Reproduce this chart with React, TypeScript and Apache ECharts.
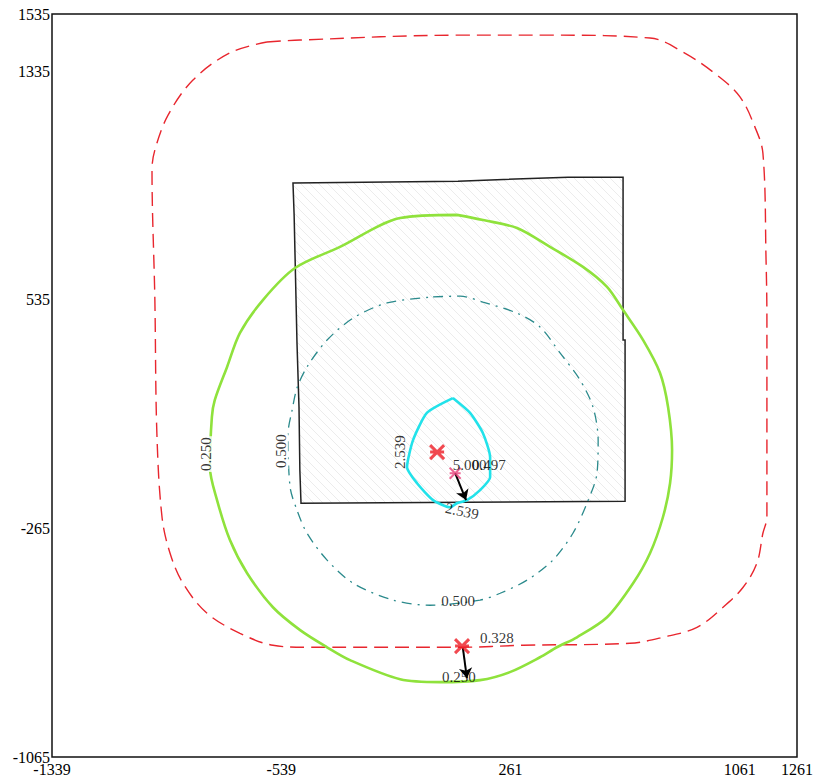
import React, { useEffect, useRef } from "react";
import * as echarts from "echarts";

// Axis tick labels
const X_TICKS = [-1339, -539, 261, 1061, 1261];
const Y_TICKS = [-1065, -265, 535, 1335, 1535];

// Red dashed outer contour (0.328)
const RED_CONTOUR: [number, number][] = [
  [-589, 1437], [-473, 1444], [85, 1461], [399, 1461], [748, 1451], [863, 1402],
  [982, 1321], [1062, 1245], [1114, 1140], [1142, 1048], [1153, 674], [1156, 464],
  [1156, -226], [1142, -282], [1121, -387], [1073, -471], [1003, -541], [912, -611],
  [793, -646], [678, -667], [305, -674], [85, -681], [-449, -681], [-568, -674],
  [-683, -632], [-798, -562], [-882, -457], [-927, -352], [-955, -226], [-973, 68],
  [-980, 534], [-990, 989], [-980, 1059], [-934, 1181], [-847, 1304], [-718, 1399],
  [-589, 1437],
];

// Green contour (0.250)
const GREEN_CONTOUR: [number, number][] = [
  [74, 832], [165, 814], [284, 786], [399, 720], [514, 650], [598, 580], [654, 499],
  [724, 394], [783, 279], [811, 160], [825, 9], [818, -107], [793, -226], [748, -352],
  [689, -457], [598, -576], [493, -646], [423, -681], [364, -716], [259, -768],
  [155, -796], [15, -803], [-124, -793], [-299, -726], [-379, -681], [-473, -621],
  [-568, -541], [-658, -422], [-718, -306], [-763, -166], [-788, -51], [-781, 125],
  [-771, 184], [-728, 300], [-683, 419], [-603, 534], [-491, 646], [-334, 720],
  [-124, 821], [74, 832],
];

// Teal dash-dot contour (0.500)
const TEAL_CONTOUR: [number, number][] = [
  [-9, 545], [85, 548], [165, 527], [284, 488], [364, 440], [434, 349], [504, 254],
  [549, 160], [567, 44], [563, -72], [528, -177], [479, -282], [409, -376], [319, -446],
  [225, -492], [155, -516], [-20, -534], [-149, -516], [-288, -457], [-379, -376],
  [-449, -282], [-484, -201], [-508, -121], [-515, 68], [-501, 149], [-484, 226],
  [-449, 300], [-379, 394], [-288, 471], [-170, 524], [-9, 545],
];

// Cyan contour (2.539)
const CYAN_CONTOUR: [number, number][] = [
  [60, 191], [120, 139], [165, 68], [190, -16], [190, -86], [155, -131], [109, -166],
  [74, -177], [50, -191], [-9, -166], [-65, -107], [-100, -51], [-79, 44], [-30, 140],
  [60, 191],
];

// Hatched source area (black outline)
const SOURCE_AREA: [number, number][] = [
  [-498, 944], [78, 950], [462, 964], [654, 964], [654, 394], [661, 394], [661, -170],
  [-470, -177], [-474, -61], [-477, 160], [-484, 384], [-494, 832],
];

// Markers
const RED_MARKERS: [number, number][] = [[5, 2], [92, -677]];
const PINK_MARKERS: [number, number][] = [[68, -72]];

// Arrows [from, to]
const ARROWS: [[number, number], [number, number]][] = [
  [[68, -72], [106, -166]],
  [[95, -684], [109, -789]],
];

// Contour labels: [x, y, text, rotate, align, whiteBg]
const LABELS: [number, number, string, number, string, boolean][] = [
  [-802, -5, "0.250", 90, "center", true],
  [-540, 5, "0.500", 90, "center", true],
  [-124, 2, "2.539", 90, "center", false],
  [92, -205, "2.539", -12, "center", false],
  [60, -43, "5.000", 0, "left", false],
  [127, -43, "0.497", 0, "left", false],
  [78, -519, "0.500", 0, "center", false],
  [155, -649, "0.328", 0, "left", false],
  [81, -785, "0.250", 0, "center", false],
];

const FONT = "'Liberation Serif', 'Times New Roman', serif";

export default function App() {
  const ref = useRef<HTMLDivElement>(null);
  useEffect(() => {
    document.body.style.margin = "0";
    if (!ref.current) return;
    const chart = echarts.init(ref.current, null, { renderer: "svg" });

    const hatchSvg =
      '<svg xmlns="http://www.w3.org/2000/svg" width="9" height="9">' +
      '<path d="M0,0L9,9M-1,8L1,10M8,-1L10,1" stroke="#ececec" stroke-width="1" fill="none"/></svg>';
    const hatch = {
      image: "data:image/svg+xml;charset=utf-8," + encodeURIComponent(hatchSvg),
      repeat: "repeat",
      imageWidth: 9,
      imageHeight: 9,
    };

    const lineSeries = (name: string, data: [number, number][], color: string, width: number, type: any, smooth: number) => ({
      name,
      type: "line",
      data,
      symbol: "none",
      showSymbol: false,
      smooth,
      silent: true,
      z: 3,
      lineStyle: { color, width, type },
    });

    const xPath = "path://M0,0L10,10M10,0L0,10M0,5L10,5";
    const fmt = (v: number) => String(v);

    const option: any = {
      animation: false,
      backgroundColor: "#fff",
      grid: {
        left: 52,
        right: 22,
        top: 14,
        bottom: 25,
        show: true,
        borderColor: "#111",
        borderWidth: 1.5,
        containLabel: false,
        outerBoundsMode: "none",
      },
      xAxis: {
        type: "value",
        min: -1339,
        max: 1261,
        splitLine: { show: false },
        axisLine: { show: false },
        axisTick: { show: false },
        axisLabel: {
          customValues: X_TICKS,
          formatter: fmt,
          fontFamily: FONT,
          fontSize: 16,
          color: "#000",
          margin: 4,
        },
      },
      yAxis: {
        type: "value",
        min: -1065,
        max: 1535,
        splitLine: { show: false },
        axisLine: { show: false },
        axisTick: { show: false },
        axisLabel: {
          customValues: Y_TICKS,
          formatter: fmt,
          fontFamily: FONT,
          fontSize: 16,
          color: "#000",
          margin: 2,
        },
      },
      series: [
        {
          type: "custom",
          coordinateSystem: "cartesian2d",
          silent: true,
          z: 1,
          data: [[0, 0]],
          renderItem: (params: any, api: any) => {
            const pts = SOURCE_AREA.map((p) => api.coord(p));
            return {
              type: "polygon",
              shape: { points: pts },
              style: { fill: hatch, stroke: "#222", lineWidth: 1.5 },
            };
          },
        },
        lineSeries("0.328", RED_CONTOUR, "#e8262e", 1.4, [14, 7], 0.35),
        lineSeries("0.250", GREEN_CONTOUR, "#8fe23c", 2.6, "solid", 0.3),
        lineSeries("0.500", TEAL_CONTOUR, "#2b8a8c", 1.3, [10, 6, 2, 6], 0.3),
        lineSeries("2.539", CYAN_CONTOUR, "#22e2ea", 2.6, "solid", 0.2),
        {
          type: "scatter",
          data: RED_MARKERS,
          symbol: xPath,
          symbolSize: 14,
          silent: true,
          z: 5,
          itemStyle: { color: "rgba(0,0,0,0)", borderColor: "#ee1c24", borderWidth: 3 },
        },
        {
          type: "scatter",
          data: PINK_MARKERS,
          symbol: xPath,
          symbolSize: 11,
          silent: true,
          z: 5,
          itemStyle: { color: "rgba(0,0,0,0)", borderColor: "#e8407a", borderWidth: 2 },
        },
        {
          type: "scatter",
          symbolSize: 0,
          silent: true,
          z: 6,
          data: LABELS.map(([x, y, text, rot, align, bg]) => ({
            value: [x, y],
            label: {
              show: true,
              position: "inside",
              formatter: text,
              rotate: rot,
              align,
              verticalAlign: "middle",
              fontFamily: FONT,
              fontSize: 15,
              color: "#000",
              backgroundColor: bg ? "#fff" : "transparent",
              padding: bg ? [0, 1] : 0,
            },
          })),
          markLine: {
            silent: true,
            symbol: ["none", "arrow"],
            symbolSize: 10,
            label: { show: false },
            lineStyle: { color: "#000", width: 2, type: "solid" },
            data: ARROWS.map(([a, b]) => [{ coord: a }, { coord: b }]),
          },
        },
      ],
    };
    chart.setOption(option);
    return () => chart.dispose();
  }, []);
  return <div ref={ref} style={{ width: 819, height: 782 }} />;
}
